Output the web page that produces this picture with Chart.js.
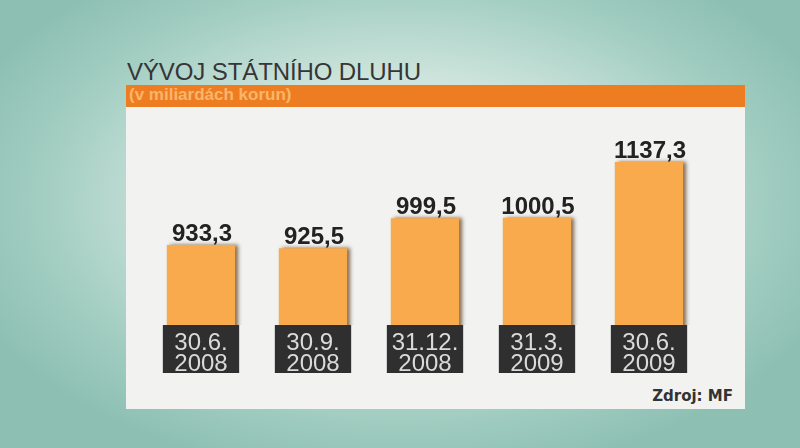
<!DOCTYPE html>
<html>
<head>
<meta charset="utf-8">
<script src="https://cdn.jsdelivr.net/npm/chart.js@4"></script>
<style>
  html, body { margin: 0; padding: 0; }
  body {
    width: 800px; height: 448px; overflow: hidden; position: relative;
    background: radial-gradient(ellipse 58% 62% at 50% 45%, #e8f2ee 0%, #cde4dc 45%, #a2cdc1 78%, #8dc0b3 100%);
    font-family: "Liberation Sans", Arial, sans-serif;
  }
  #panel { position: absolute; left: 126px; top: 107px; width: 619px; height: 302px; background: #f2f2f0; }
  #band { position: absolute; left: 126px; top: 85px; width: 619px; height: 22px; background: #ee7d22; }
  #title { position: absolute; left: 127px; top: 60px; font-size: 24px; line-height: 24px; color: #363636; white-space: nowrap; letter-spacing: -0.1px; }
  #subtitle { position: absolute; left: 129px; top: 86px; font-size: 17px; line-height: 17px; font-weight: bold; color: #f9b56c; white-space: nowrap; }
  #source { position: absolute; right: 67px; top: 389px; font-family: "DejaVu Sans", sans-serif; font-size: 15px; line-height: 15px; font-weight: bold; color: #333; }
  #chartBox { position: absolute; left: 0; top: 0; width: 800px; height: 448px; }
</style>
</head>
<body>
<div id="panel"></div>
<div id="band"></div>
<div id="title">VÝVOJ STÁTNÍHO DLUHU</div>
<div id="subtitle">(v miliardách korun)</div>
<div id="source">Zdroj: MF</div>
<div id="chartBox"><canvas id="debtChart" width="800" height="448"></canvas></div>
<script>
// data
const dates = [['30.6.', '2008'], ['30.9.', '2008'], ['31.12.', '2008'], ['31.3.', '2009'], ['30.6.', '2009']]
const debt = [933.3, 925.5, 999.5, 1000.5, 1137.3]
const valueLabels = ['933,3', '925,5', '999,5', '1000,5', '1137,3']

// bar shadow + dark date boxes + values above bars
const tvLook = {
  id: 'tvLook',
  beforeDatasetDraw(chart) {
    const ctx = chart.ctx
    ctx.save()
    ctx.shadowColor = 'rgba(80, 40, 0, 0.7)'
    ctx.shadowBlur = 4
    ctx.shadowOffsetX = 3
    ctx.shadowOffsetY = 0
  },
  afterDatasetDraw(chart) {
    chart.ctx.restore()
  },
  afterDatasetsDraw(chart) {
    const ctx = chart.ctx
    const bottom = chart.chartArea.bottom
    chart.getDatasetMeta(0).data.forEach((bar, i) => {
      const w = bar.width + 8
      ctx.save()
      ctx.fillStyle = '#2f2f2f'
      ctx.fillRect(bar.x - w / 2, bottom, w, 48)
      ctx.fillStyle = '#dadada'
      ctx.font = '24px "Liberation Sans", Arial, sans-serif'
      ctx.textAlign = 'center'
      ctx.textBaseline = 'alphabetic'
      ctx.fillText(dates[i][0], bar.x, bottom + 25)
      ctx.fillText(dates[i][1], bar.x, bottom + 46)
      ctx.fillStyle = '#222'
      ctx.font = 'bold 24px "Liberation Sans", Arial, sans-serif'
      ctx.fillText(valueLabels[i], bar.x + 1, bar.y - 4)
      ctx.restore()
    })
  }
}

const chart = new Chart(document.getElementById('debtChart'), {
  type: 'bar',
  data: {
    labels: dates,
    datasets: [{
      data: debt,
      backgroundColor: '#f8aa4c',
      borderWidth: 0,
      barPercentage: 0.61,
      categoryPercentage: 1
    }]
  },
  options: {
    responsive: false,
    animation: false,
    layout: { padding: { left: 145, right: 95, top: 130, bottom: 123 } },
    plugins: { legend: { display: false }, tooltip: { enabled: false } },
    scales: {
      x: { display: false },
      y: { display: false, min: 737, max: 1216 }
    }
  },
  plugins: [tvLook]
})
</script>
</body>
</html>
